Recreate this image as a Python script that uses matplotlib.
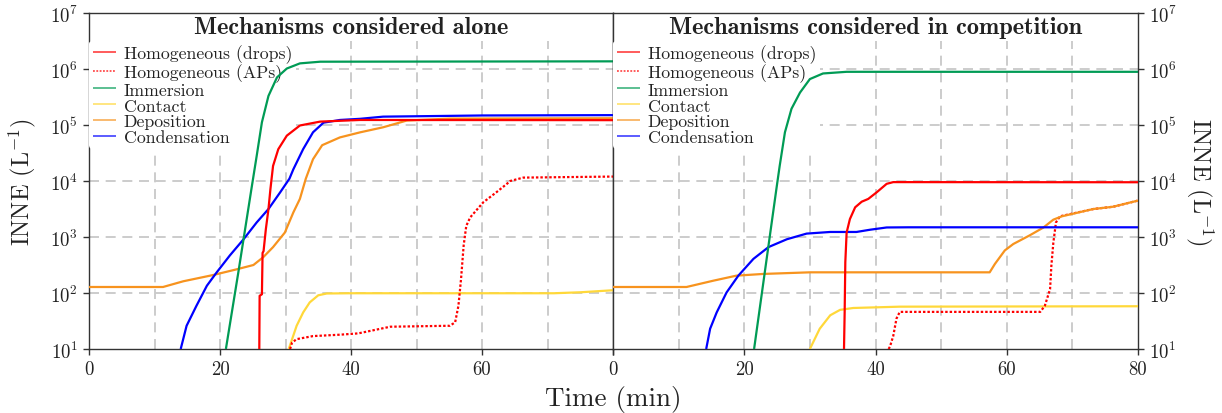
import matplotlib
matplotlib.use("Agg")
import matplotlib.pyplot as plt
from matplotlib.ticker import NullLocator, LogLocator, LogFormatterSciNotation

plt.rcParams['font.family'] = 'cmr10'
plt.rcParams['mathtext.fontset'] = 'cm'
plt.rcParams['axes.unicode_minus'] = False
plt.rcParams['axes.formatter.use_mathtext'] = True

# ---------------- data: mechanisms considered alone ----------------
hom_drops_alone_t = [26.0, 26.05, 26.4, 26.5, 26.65, 27.0, 27.4, 27.7, 28.1, 28.9, 30.2, 32.2, 35.3, 41.4, 80]
hom_drops_alone_v = [10, 89, 95, 520, 560, 1380, 3160, 7200, 18600, 37000, 64500, 98000, 115000, 123000, 122000]

hom_aps_alone_t = [30.7, 31.0, 31.7, 34.2, 38.3, 41.1, 42.9, 46.0, 55.1, 55.9, 56.4, 56.8, 57.2, 57.6, 58.2, 60.2, 62.2, 63.8, 64.3, 66.3, 80]
hom_aps_alone_v = [10, 13, 15, 17, 18, 19, 21, 25, 26, 30, 59, 178, 708, 1580, 2240, 4170, 6300, 8900, 10000, 11500, 12000]

immersion_alone_t = [20.9, 22.8, 24.8, 25.6, 26.4, 27.4, 28.7, 30.2, 32.2, 35.3, 80]
immersion_alone_v = [10, 234, 7240, 28000, 112000, 331000, 708000, 1.02e6, 1.26e6, 1.35e6, 1.37e6]

contact_alone_t = [30.5, 31.7, 32.7, 33.7, 35.0, 36.3, 40, 60, 71, 75, 80]
contact_alone_v = [10, 26, 45, 68, 91, 98, 99, 99, 99, 103, 112]

deposition_alone_t = [0, 11.3, 14.4, 19.0, 22.5, 25.1, 26.6, 28.1, 29.9, 31.2, 32.2, 33.1, 34.2, 35.6, 38.3, 41.4, 44.9, 48.5, 55, 80]
deposition_alone_v = [128, 128, 162, 210, 264, 316, 436, 660, 1200, 2750, 4800, 11000, 24500, 43600, 60000, 74000, 91000, 120000, 130000, 132000]

condensation_alone_t = [14.0, 14.9, 16.4, 18.0, 19.5, 21.5, 23.6, 25.6, 27.4, 29.2, 30.6, 31.2, 32.7, 34.2, 35.8, 38.3, 41.4, 44.9, 60.2, 80]
condensation_alone_v = [10, 26, 59, 135, 234, 468, 912, 1820, 3160, 6310, 11000, 16200, 37150, 74100, 110000, 123000, 129000, 141000, 148000, 150000]

# ---------------- data: mechanisms considered in competition ----------------
hom_drops_comp_t = [35.2, 35.3, 35.4, 35.6, 36.1, 36.9, 37.9, 38.9, 40.2, 41.7, 42.7, 80]
hom_drops_comp_v = [10, 45, 355, 1200, 2090, 3390, 4270, 4790, 6310, 8900, 9550, 9500]

hom_aps_comp_t = [42.0, 42.2, 42.7, 43.2, 43.7, 65.1, 65.8, 66.6, 66.8, 67.1, 67.5, 68.1, 73.2, 76.2, 80]
hom_aps_comp_v = [10, 11, 17, 35, 46, 46, 59, 117, 309, 794, 1820, 2340, 3160, 3470, 4470]

immersion_comp_t = [21.5, 24.9, 25.4, 26.2, 27.2, 28.5, 30.0, 32.0, 35.6, 80]
immersion_comp_v = [10, 7240, 18600, 74100, 195000, 380000, 661000, 832000, 891000, 891000]

contact_comp_t = [30.0, 31.5, 33.1, 34.6, 36.6, 43.7, 80]
contact_comp_v = [10, 23, 40, 50, 54, 57, 58]

deposition_comp_t = [0, 11.2, 15.3, 18.8, 22.9, 30, 57.4, 58.2, 59.7, 61, 63.5, 65.6, 67.1, 68.4, 73.2, 76.2, 80]
deposition_comp_v = [128, 128, 166, 204, 219, 234, 234, 331, 575, 750, 1070, 1480, 2040, 2340, 3160, 3470, 4470]

condensation_comp_t = [14.2, 14.8, 15.8, 17.3, 19.1, 21.4, 23.7, 26.5, 29.5, 33.1, 37.1, 39.2, 41.7, 45, 80]
condensation_comp_v = [10, 23, 45, 102, 204, 407, 661, 912, 1150, 1230, 1230, 1350, 1480, 1490, 1490]

labels = ["Homogeneous (drops)", "Homogeneous (APs)", "Immersion", "Contact", "Deposition", "Condensation"]
colors = ["#FF0000", "#FF0000", "#009B55", "#FFD83A", "#F7931E", "#0000FF"]
styles = ["-", (0, (1.1, 0.9)), "-", "-", "-", "-"]
titles = ["Mechanisms considered alone", "Mechanisms considered in competition"]

panels = [
    [(hom_drops_alone_t, hom_drops_alone_v), (hom_aps_alone_t, hom_aps_alone_v),
     (immersion_alone_t, immersion_alone_v), (contact_alone_t, contact_alone_v),
     (deposition_alone_t, deposition_alone_v), (condensation_alone_t, condensation_alone_v)],
    [(hom_drops_comp_t, hom_drops_comp_v), (hom_aps_comp_t, hom_aps_comp_v),
     (immersion_comp_t, immersion_comp_v), (contact_comp_t, contact_comp_v),
     (deposition_comp_t, deposition_comp_v), (condensation_comp_t, condensation_comp_v)],
]
draw_order = [3, 1, 4, 5, 2, 0]

W, H = 1222, 414
fig = plt.figure(figsize=(W / 100, H / 100), dpi=100)
ax_l = fig.add_axes([89 / W, 64 / H, 524 / W, 336 / H])
ax_r = fig.add_axes([613 / W, 64 / H, 525 / W, 336 / H])

text_col = "#222222"
grid_col = "#c4c4c4"
grid_top = (350 - 42) / 336

for k, ax in enumerate([ax_l, ax_r]):
    ax.set_yscale("log")
    ax.set_xlim(0, 80)
    ax.set_ylim(10, 1e7)
    for xv in [10, 20, 30, 40, 50, 60, 70]:
        ax.axvline(xv, ymin=0, ymax=grid_top, color=grid_col, lw=1.2, ls=(0, (6, 4)), zorder=1)
    for yv in [1e2, 1e3, 1e4, 1e5, 1e6]:
        ax.axhline(yv, color=grid_col, lw=1.2, ls=(0, (6, 4)), zorder=1)
    handles = [None] * 6
    for i in draw_order:
        t, v = panels[k][i]
        ln, = ax.plot(t, v, color=colors[i], ls=styles[i], lw=1.6, label=labels[i],
                      zorder=10, solid_capstyle="butt")
        handles[i] = ln
    leg = ax.legend(handles, labels, loc="upper left", bbox_to_anchor=(0.0, 0.918),
                    fontsize=12.8, frameon=True, framealpha=1.0, facecolor="white",
                    edgecolor="none", borderaxespad=0.0, borderpad=0.2,
                    handlelength=1.3, handletextpad=0.45, labelspacing=0.02)
    leg.set_zorder(5)
    for h in leg.legend_handles:
        h.set_linewidth(1.2)
        h.set_alpha(0.75)
    for txt in leg.get_texts():
        txt.set_color(text_col)
    ax.text(0.5, 0.957, titles[k], transform=ax.transAxes, ha="center", va="center",
            fontsize=17.5, family="cmb10", color=text_col, zorder=12)
    ax.yaxis.set_major_locator(LogLocator(base=10, numticks=10))
    ax.yaxis.set_major_formatter(LogFormatterSciNotation())
    ax.yaxis.set_minor_locator(NullLocator())
    ax.set_xticks([0, 20, 40, 60, 80])
    for sp in ax.spines.values():
        sp.set_color("#333333")
        sp.set_linewidth(1.0)
    ax.tick_params(axis="both", which="major", direction="out", length=4, width=1.0,
                   colors="#333333", labelcolor=text_col, labelsize=13.5, pad=4)

ax_l.set_xticklabels(["0", "20", "40", "60", ""])
ax_r.set_xticklabels(["0", "20", "40", "60", "80"])
ax_r.yaxis.tick_right()
ax_r.yaxis.set_label_position("right")

ax_l.set_ylabel(r"INNE (L$^{-1}$)", fontsize=17.5, color=text_col)
ax_l.yaxis.set_label_coords(-0.098, 0.5)
ax_r.set_ylabel(r"INNE (L$^{-1}$)", fontsize=17.5, color=text_col, rotation=270, va="center")
ax_r.yaxis.set_label_coords(1.118, 0.5)

fig.text(613 / W, 1 - 400 / H, "Time (min)", ha="center", va="center", fontsize=19.5, color=text_col)

fig.savefig("out.png", dpi=100, facecolor="white")
